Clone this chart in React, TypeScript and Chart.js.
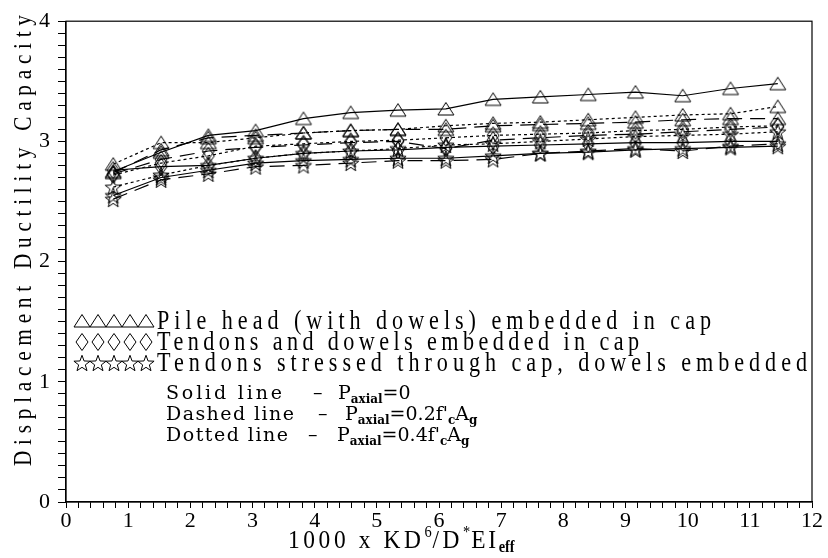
import React, { useEffect, useRef } from 'react';
import { Chart, registerables } from 'chart.js';

Chart.register(...registerables);

// ---- data ----
const xValues = [0.76, 1.53, 2.29, 3.05, 3.82, 4.58, 5.34, 6.11, 6.87, 7.63, 8.40, 9.16, 9.92, 10.69, 11.45];

// Pile head (with dowels) embedded in cap
const pileSolid = [2.75, 2.91, 3.05, 3.09, 3.19, 3.24, 3.26, 3.27, 3.35, 3.37, 3.39, 3.41, 3.38, 3.44, 3.48];
const pileDashed = [2.74, 2.93, 3.03, 3.05, 3.07, 3.09, 3.10, 3.10, 3.13, 3.14, 3.15, 3.16, 3.18, 3.19, 3.19];
const pileDotted = [2.81, 2.99, 2.99, 3.03, 3.07, 3.09, 3.10, 3.13, 3.15, 3.16, 3.18, 3.20, 3.22, 3.23, 3.29];
// Tendons and dowels embedded in cap
const embSolid = [2.76, 2.79, 2.80, 2.86, 2.90, 2.92, 2.93, 2.95, 2.96, 2.97, 2.98, 2.99, 2.99, 3.00, 3.00];
const embDashed = [2.73, 2.85, 2.92, 2.95, 2.97, 2.99, 3.00, 2.94, 3.01, 3.03, 3.05, 3.06, 3.08, 3.10, 3.12];
const embDotted = [2.72, 2.82, 2.88, 2.96, 2.98, 3.00, 3.01, 3.03, 3.05, 3.06, 3.07, 3.09, 3.10, 3.12, 3.13];
// Tendons stressed through cap, dowels embedded
const strSolid = [2.55, 2.70, 2.76, 2.82, 2.84, 2.85, 2.86, 2.86, 2.88, 2.90, 2.91, 2.93, 2.94, 2.95, 2.96];
const strDashed = [2.52, 2.68, 2.73, 2.79, 2.80, 2.82, 2.84, 2.84, 2.85, 2.90, 2.92, 2.94, 2.92, 2.96, 2.98];
const strDotted = [2.62, 2.72, 2.80, 2.86, 2.90, 2.92, 2.94, 2.97, 2.98, 3.00, 3.02, 3.04, 3.05, 3.06, 3.08];

const xTickLabels = ['0', '1', '2', '3', '4', '5', '6', '7', '8', '9', '10', '11', '12'];
const yTickLabels = ['0', '1', '2', '3', '4'];

const legendLabels = [
  'Pile head (with dowels) embedded in cap',
  'Tendons and dowels embedded in cap',
  'Tendons stressed through cap, dowels embedded',
];
const lineStyleLabels = ['Solid line', 'Dashed line', 'Dotted line'];
const axialLabels = ['0', '0.2', '0.4'];
const yTitle = 'Displacement Ductility Capacity';

type Kind = 'tri' | 'dia' | 'star';

function makeMarker(kind: Kind): HTMLCanvasElement {
  const c = document.createElement('canvas');
  c.width = 20;
  c.height = 20;
  const ctx = c.getContext('2d')!;
  ctx.strokeStyle = '#000';
  ctx.lineWidth = 1;
  ctx.beginPath();
  if (kind === 'tri') {
    ctx.moveTo(10, 3.5);
    ctx.lineTo(2, 16);
    ctx.lineTo(18, 16);
    ctx.closePath();
  } else if (kind === 'dia') {
    ctx.moveTo(10, 1.5);
    ctx.lineTo(16, 10);
    ctx.lineTo(10, 18.5);
    ctx.lineTo(4, 10);
    ctx.closePath();
  } else {
    const cx = 10, cy = 10.8, ro = 8.5, ri = 3.5;
    for (let i = 0; i < 10; i++) {
      const r = i % 2 === 0 ? ro : ri;
      const a = -Math.PI / 2 + (i * Math.PI) / 5;
      const px = cx + r * Math.cos(a);
      const py = cy + r * Math.sin(a);
      if (i === 0) ctx.moveTo(px, py);
      else ctx.lineTo(px, py);
    }
    ctx.closePath();
  }
  ctx.stroke();
  return c;
}

// draw text horizontally condensed by hs, stretched to exactly `width` px
function drawFit(ctx: CanvasRenderingContext2D, text: string, x: number, y: number, width: number, font: string, hs = 1) {
  ctx.save();
  ctx.translate(x, y);
  ctx.scale(hs, 1);
  ctx.font = font;
  (ctx as any).letterSpacing = '0px';
  const w = ctx.measureText(text).width;
  const ls = (width / hs - w) / Math.max(1, text.length - 1);
  (ctx as any).letterSpacing = ls + 'px';
  ctx.fillText(text, 0, 0);
  (ctx as any).letterSpacing = '0px';
  ctx.restore();
}

type Seg = { t: string; font: string; dy: number; ls?: number };
function drawRich(ctx: CanvasRenderingContext2D, segs: Seg[], x: number, y: number, hs = 1) {
  ctx.save();
  ctx.translate(x, y);
  ctx.scale(hs, 1);
  let cx = 0;
  for (const s of segs) {
    ctx.font = s.font;
    (ctx as any).letterSpacing = (s.ls ?? 0) + 'px';
    ctx.fillText(s.t, cx, s.dy);
    cx += ctx.measureText(s.t).width;
  }
  (ctx as any).letterSpacing = '0px';
  ctx.restore();
}

export default function App() {
  const ref = useRef<HTMLCanvasElement | null>(null);

  useEffect(() => {
    const canvas = ref.current!;
    const tri = makeMarker('tri');
    const dia = makeMarker('dia');
    const star = makeMarker('star');
    const solid: number[] = [];
    const dashed = [15, 8];
    const dotted = [3, 3];

    const mk = (vals: number[], marker: HTMLCanvasElement, dash: number[]) => ({
      data: xValues.map((x, i) => ({ x, y: vals[i] })),
      borderColor: '#000',
      borderWidth: 1.2,
      borderDash: dash,
      pointStyle: marker,
      pointRadius: 6,
      showLine: true,
      fill: false,
      tension: 0,
    });

    const datasets = [
      mk(strDashed, star, dashed),
      mk(strSolid, star, solid),
      mk(strDotted, star, dotted),
      mk(embDashed, dia, dashed),
      mk(embSolid, dia, solid),
      mk(embDotted, dia, dotted),
      mk(pileDashed, tri, dashed),
      mk(pileDotted, tri, dotted),
      mk(pileSolid, tri, solid),
    ];

    const overlay = {
      id: 'overlay',
      afterDraw(chart: any) {
        const ctx: CanvasRenderingContext2D = chart.ctx;
        const a = chart.chartArea;
        ctx.save();
        ctx.strokeStyle = '#000';
        ctx.lineWidth = 1.2;
        ctx.strokeRect(a.left, a.top, a.right - a.left, a.bottom - a.top);
        ctx.fillStyle = '#000';
        ctx.textBaseline = 'alphabetic';
        ctx.textAlign = 'left';

        // legend markers and text
        const markers = [tri, dia, star];
        const rowY = [321, 342, 363];
        const textW = [554, 482, 650];
        for (let r = 0; r < 3; r++) {
          for (let k = 0; k < 5; k++) {
            ctx.drawImage(markers[r], 82 + k * 16 - 10, rowY[r] - 10);
          }
          drawFit(ctx, legendLabels[r], 157, rowY[r] + 8, textW[r], '27px "Liberation Serif"', 0.82);
        }

        // line style notes
        const noteY = [399, 420, 441];
        const dashX = [313, 318, 308];
        const pX = [338, 345, 337];
        const main = '19px "DejaVu Serif"';
        const sub = 'bold 12px "DejaVu Serif"';
        for (let r = 0; r < 3; r++) {
          drawFit(ctx, lineStyleLabels[r], 166, noteY[r], r === 0 ? 116 : r === 1 ? 128 : 122, main, 1);
          ctx.font = main;
          ctx.fillText('\u2013', dashX[r], noteY[r]);
          const segs: Seg[] = [
            { t: 'P', font: main, dy: 0 },
            { t: 'axial', font: sub, dy: 4 },
            { t: '=' + axialLabels[r], font: main, dy: 0 },
          ];
          if (r > 0) {
            segs.push({ t: "f'", font: main, dy: 0 });
            segs.push({ t: 'c', font: sub, dy: 4 });
            segs.push({ t: 'A', font: main, dy: 0 });
            segs.push({ t: 'g', font: sub, dy: 4 });
          }
          drawRich(ctx, segs, pX[r], noteY[r], 1);
        }

        // x axis title
        const tf = '26px "Liberation Serif"';
        const sf = '16px "Liberation Serif"';
        const bsf = 'bold 16px "Liberation Serif"';
        drawRich(ctx, [
          { t: '1000 x KD', font: tf, dy: 0, ls: 4 },
          { t: '6', font: sf, dy: -11, ls: 1 },
          { t: '/D', font: tf, dy: 0, ls: 4 },
          { t: '*', font: sf, dy: -11, ls: 1 },
          { t: 'EI', font: tf, dy: 0, ls: 3 },
          { t: 'eff', font: bsf, dy: 4 },
        ], 288, 548, 0.9);

        // y axis title
        ctx.save();
        ctx.translate(31, 466);
        ctx.rotate(-Math.PI / 2);
        drawFit(ctx, yTitle, 0, 0, 451, '26px "Liberation Serif"', 0.82);
        ctx.restore();

        ctx.restore();
      },
    };

    const chart = new Chart(canvas, {
      type: 'scatter',
      data: { datasets: datasets as any },
      options: {
        animation: false,
        responsive: false,
        devicePixelRatio: 1,
        layout: { padding: { left: 0, top: 16, right: 16, bottom: 0 } },
        plugins: { legend: { display: false }, tooltip: { enabled: false } },
        scales: {
          x: {
            type: 'linear',
            min: 0,
            max: 12,
            afterFit: (s: any) => { s.height = 56; },
            ticks: {
              stepSize: 0.2,
              autoSkip: false,
              maxRotation: 0,
              color: '#000',
              padding: 0,
              font: { family: '"Liberation Serif"', size: 22 },
              callback: (v: any) => {
                const r = Math.round(Number(v));
                return Math.abs(Number(v) - r) < 1e-6 ? xTickLabels[r] : '';
              },
            },
            grid: { drawOnChartArea: false, drawTicks: true, tickLength: 6, color: '#000', lineWidth: 1 },
            border: { display: true, color: '#000', width: 1.2 },
          },
          y: {
            type: 'linear',
            min: 0,
            max: 4,
            afterFit: (s: any) => { s.width = 66; },
            ticks: {
              stepSize: 0.1,
              autoSkip: false,
              color: '#000',
              padding: 8,
              font: { family: '"Liberation Serif"', size: 22 },
              callback: (v: any) => {
                const r = Math.round(Number(v));
                return Math.abs(Number(v) - r) < 1e-6 ? yTickLabels[r] : '';
              },
            },
            grid: { drawOnChartArea: false, drawTicks: true, tickLength: 8, color: '#000', lineWidth: 1 },
            border: { display: true, color: '#000', width: 1.2 },
          },
        },
      },
      plugins: [overlay],
    });
    return () => chart.destroy();
  }, []);

  return (
    <div style={{ position: 'fixed', left: 0, top: 0, width: 828, height: 558, background: '#fff' }}>
      <canvas ref={ref} width={828} height={558} style={{ display: 'block', width: 828, height: 558 }} />
    </div>
  );
}
